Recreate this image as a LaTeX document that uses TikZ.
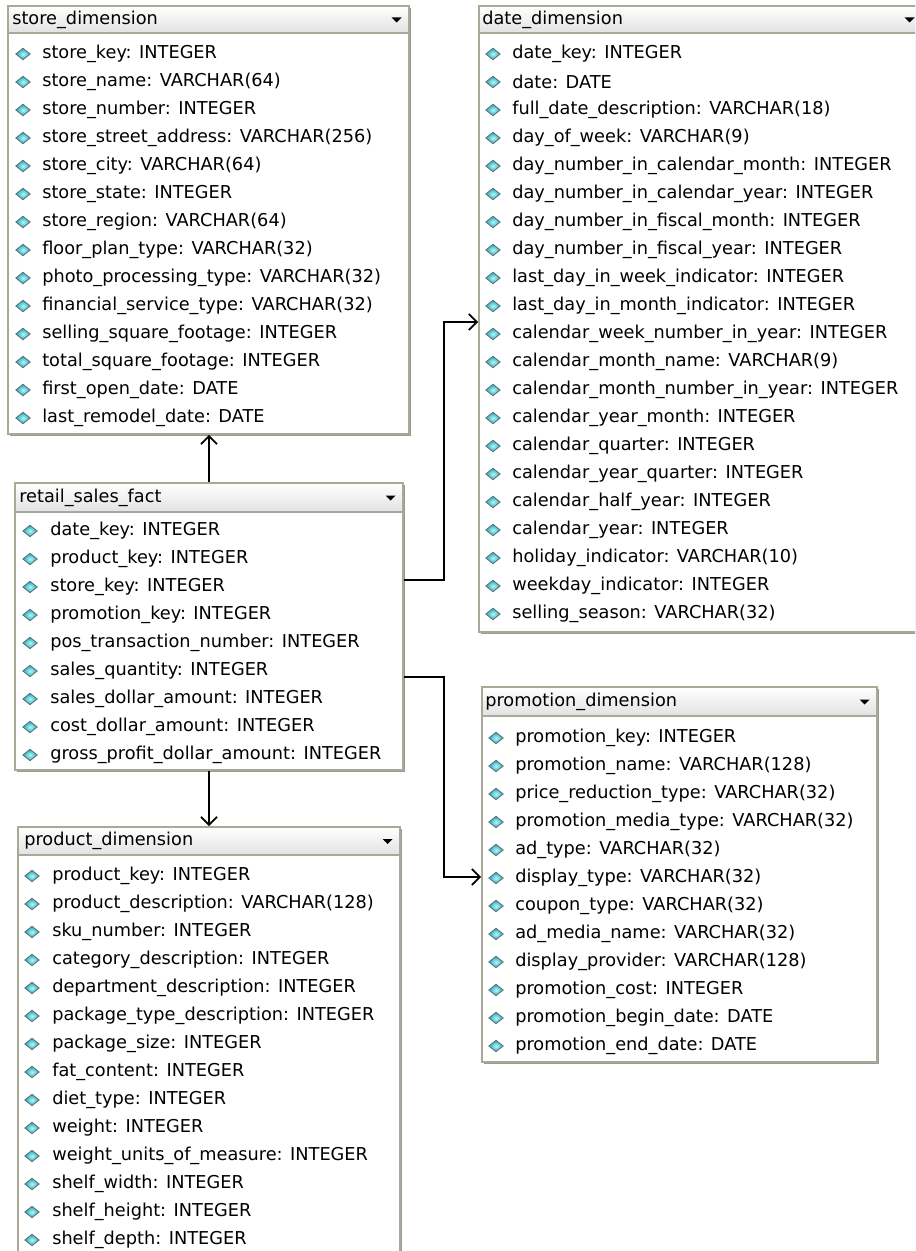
\documentclass[tikz,border=0pt]{standalone}
\usepackage{fontspec}
\setmainfont{DejaVu Sans}
\usetikzlibrary{arrows.meta,fit,shapes.geometric,shadows}
\definecolor{boxgray}{HTML}{ACA899}
\definecolor{shadowgray}{HTML}{9A9A94}
\definecolor{hdrgray}{HTML}{E2E2E2}
\definecolor{gemlight}{HTML}{B4F8FA}
\definecolor{gemdark}{HTML}{22A6B4}
\definecolor{gemedge}{HTML}{5E6E72}

\begin{document}
\begin{tikzpicture}[x=0.75pt, y=-0.75pt,
  tablebox/.style={draw=boxgray, fill=white, line width=1.2pt, inner sep=0pt,
    drop shadow={shadow xshift=1.6pt, shadow yshift=-1.6pt, fill=shadowgray, opacity=1}},
  headbox/.style={draw=boxgray, line width=0.9pt, top color=white, bottom color=hdrgray, inner sep=0pt},
  title/.style={anchor=west, inner sep=0pt, font=\fontsize{13.3}{15}\selectfont},
  field/.style={anchor=west, inner sep=0pt, font=\fontsize{13.3}{15}\selectfont},
  gem/.style={diamond, draw=gemedge, line width=0.6pt, inner color=gemlight, outer color=gemdark,
    inner sep=0pt, minimum width=11pt, minimum height=8.8pt},
  conn/.style={draw=black, line width=1.3pt, -{Straight Barb[length=6pt, width=12pt, line width=1.4pt]}}]
\clip (0,0) rectangle (915,1251);

% store_dimension
\node[tablebox, fit={(8,6) (409,434)}] (store) {};
\node[headbox, fit={(8,6) (409,33)}] (storehead) {};
\node[title] (storetitle) at (12,20) {store\_dimension};
\fill (storehead.east) ++(-18,-2) -- ++(10,0) -- ++(-5,5) -- cycle;
\foreach \f [count=\i] in {store\_key: INTEGER, store\_name: VARCHAR(64), store\_number: INTEGER,
    store\_street\_address: VARCHAR(256), store\_city: VARCHAR(64), store\_state: INTEGER,
    store\_region: VARCHAR(64), floor\_plan\_type: VARCHAR(32), photo\_processing\_type: VARCHAR(32),
    financial\_service\_type: VARCHAR(32), selling\_square\_footage: INTEGER,
    total\_square\_footage: INTEGER, first\_open\_date: DATE, last\_remodel\_date: DATE}{
  \node[gem] (storegem\i) at ({23},{54+28*(\i-1)}) {};
  \node[field] (store\i) at ({42},{54+28*(\i-1)}) {\f};
}

% retail_sales_fact
\node[tablebox, fit={(15,483) (403,770)}] (retail) {};
\node[headbox, fit={(15,483) (403,512)}] (retailhead) {};
\node[title] (retailtitle) at (19,498) {retail\_sales\_fact};
\fill (retailhead.east) ++(-18,-2) -- ++(10,0) -- ++(-5,5) -- cycle;
\foreach \f [count=\i] in {date\_key: INTEGER, product\_key: INTEGER, store\_key: INTEGER,
    promotion\_key: INTEGER, pos\_transaction\_number: INTEGER, sales\_quantity: INTEGER,
    sales\_dollar\_amount: INTEGER, cost\_dollar\_amount: INTEGER,
    gross\_profit\_dollar\_amount: INTEGER}{
  \node[gem] (retailgem\i) at ({30},{531+28*(\i-1)}) {};
  \node[field] (retail\i) at ({50},{531+28*(\i-1)}) {\f};
}

% product_dimension
\node[tablebox, fit={(18,827) (400,1258)}] (product) {};
\node[headbox, fit={(18,827) (400,855)}] (producthead) {};
\node[title] (producttitle) at (24,841) {product\_dimension};
\fill (producthead.east) ++(-18,-2) -- ++(10,0) -- ++(-5,5) -- cycle;
\foreach \f [count=\i] in {product\_key: INTEGER, product\_description: VARCHAR(128),
    sku\_number: INTEGER, category\_description: INTEGER, department\_description: INTEGER,
    package\_type\_description: INTEGER, package\_size: INTEGER, fat\_content: INTEGER,
    diet\_type: INTEGER, weight: INTEGER, weight\_units\_of\_measure: INTEGER,
    shelf\_width: INTEGER, shelf\_height: INTEGER, shelf\_depth: INTEGER}{
  \node[gem] (productgem\i) at ({32},{876+28*(\i-1)}) {};
  \node[field] (product\i) at ({52},{876+28*(\i-1)}) {\f};
}

% date_dimension
\node[tablebox, fit={(479,6) (926,632)}] (date) {};
\node[headbox, fit={(479,6) (926,33)}] (datehead) {};
\node[title] (datetitle) at (482,20) {date\_dimension};
\fill (datehead.east) ++(-22,-2) -- ++(10,0) -- ++(-5,5) -- cycle;
\foreach \f [count=\i] in {date\_key: INTEGER, date: DATE, full\_date\_description: VARCHAR(18),
    day\_of\_week: VARCHAR(9), day\_number\_in\_calendar\_month: INTEGER,
    day\_number\_in\_calendar\_year: INTEGER, day\_number\_in\_fiscal\_month: INTEGER,
    day\_number\_in\_fiscal\_year: INTEGER, last\_day\_in\_week\_indicator: INTEGER,
    last\_day\_in\_month\_indicator: INTEGER, calendar\_week\_number\_in\_year: INTEGER,
    calendar\_month\_name: VARCHAR(9), calendar\_month\_number\_in\_year: INTEGER,
    calendar\_year\_month: INTEGER, calendar\_quarter: INTEGER, calendar\_year\_quarter: INTEGER,
    calendar\_half\_year: INTEGER, calendar\_year: INTEGER, holiday\_indicator: VARCHAR(10),
    weekday\_indicator: INTEGER, selling\_season: VARCHAR(32)}{
  \node[gem] (dategem\i) at ({493},{54+28*(\i-1)}) {};
  \node[field] (date\i) at ({512},{54+28*(\i-1)}) {\f};
}

% promotion_dimension
\node[tablebox, fit={(482,687) (877,1062)}] (promo) {};
\node[headbox, fit={(482,687) (877,716)}] (promohead) {};
\node[title] (promotitle) at (485,702) {promotion\_dimension};
\fill (promohead.east) ++(-18,-2) -- ++(10,0) -- ++(-5,5) -- cycle;
\foreach \f [count=\i] in {promotion\_key: INTEGER, promotion\_name: VARCHAR(128),
    price\_reduction\_type: VARCHAR(32), promotion\_media\_type: VARCHAR(32), ad\_type: VARCHAR(32),
    display\_type: VARCHAR(32), coupon\_type: VARCHAR(32), ad\_media\_name: VARCHAR(32),
    display\_provider: VARCHAR(128), promotion\_cost: INTEGER, promotion\_begin\_date: DATE,
    promotion\_end\_date: DATE}{
  \node[gem] (promogem\i) at ({496},{738+28*(\i-1)}) {};
  \node[field] (promo\i) at ({515},{738+28*(\i-1)}) {\f};
}

% connectors
\coordinate (dbend) at (444,580);
\coordinate (datein) at (479,322);
\coordinate (pbend) at (444,677);
\coordinate (promoin) at (482,877);
\draw[conn] (retail.north) -- (retail.north |- store.south);
\draw[conn] (retail.south) -- (retail.south |- product.north);
\draw[conn] (retail.east |- dbend) -- (dbend) |- (date.west |- datein);
\draw[conn] (retail.east |- pbend) -- (pbend) |- (promo.west |- promoin);
\end{tikzpicture}
\end{document}
